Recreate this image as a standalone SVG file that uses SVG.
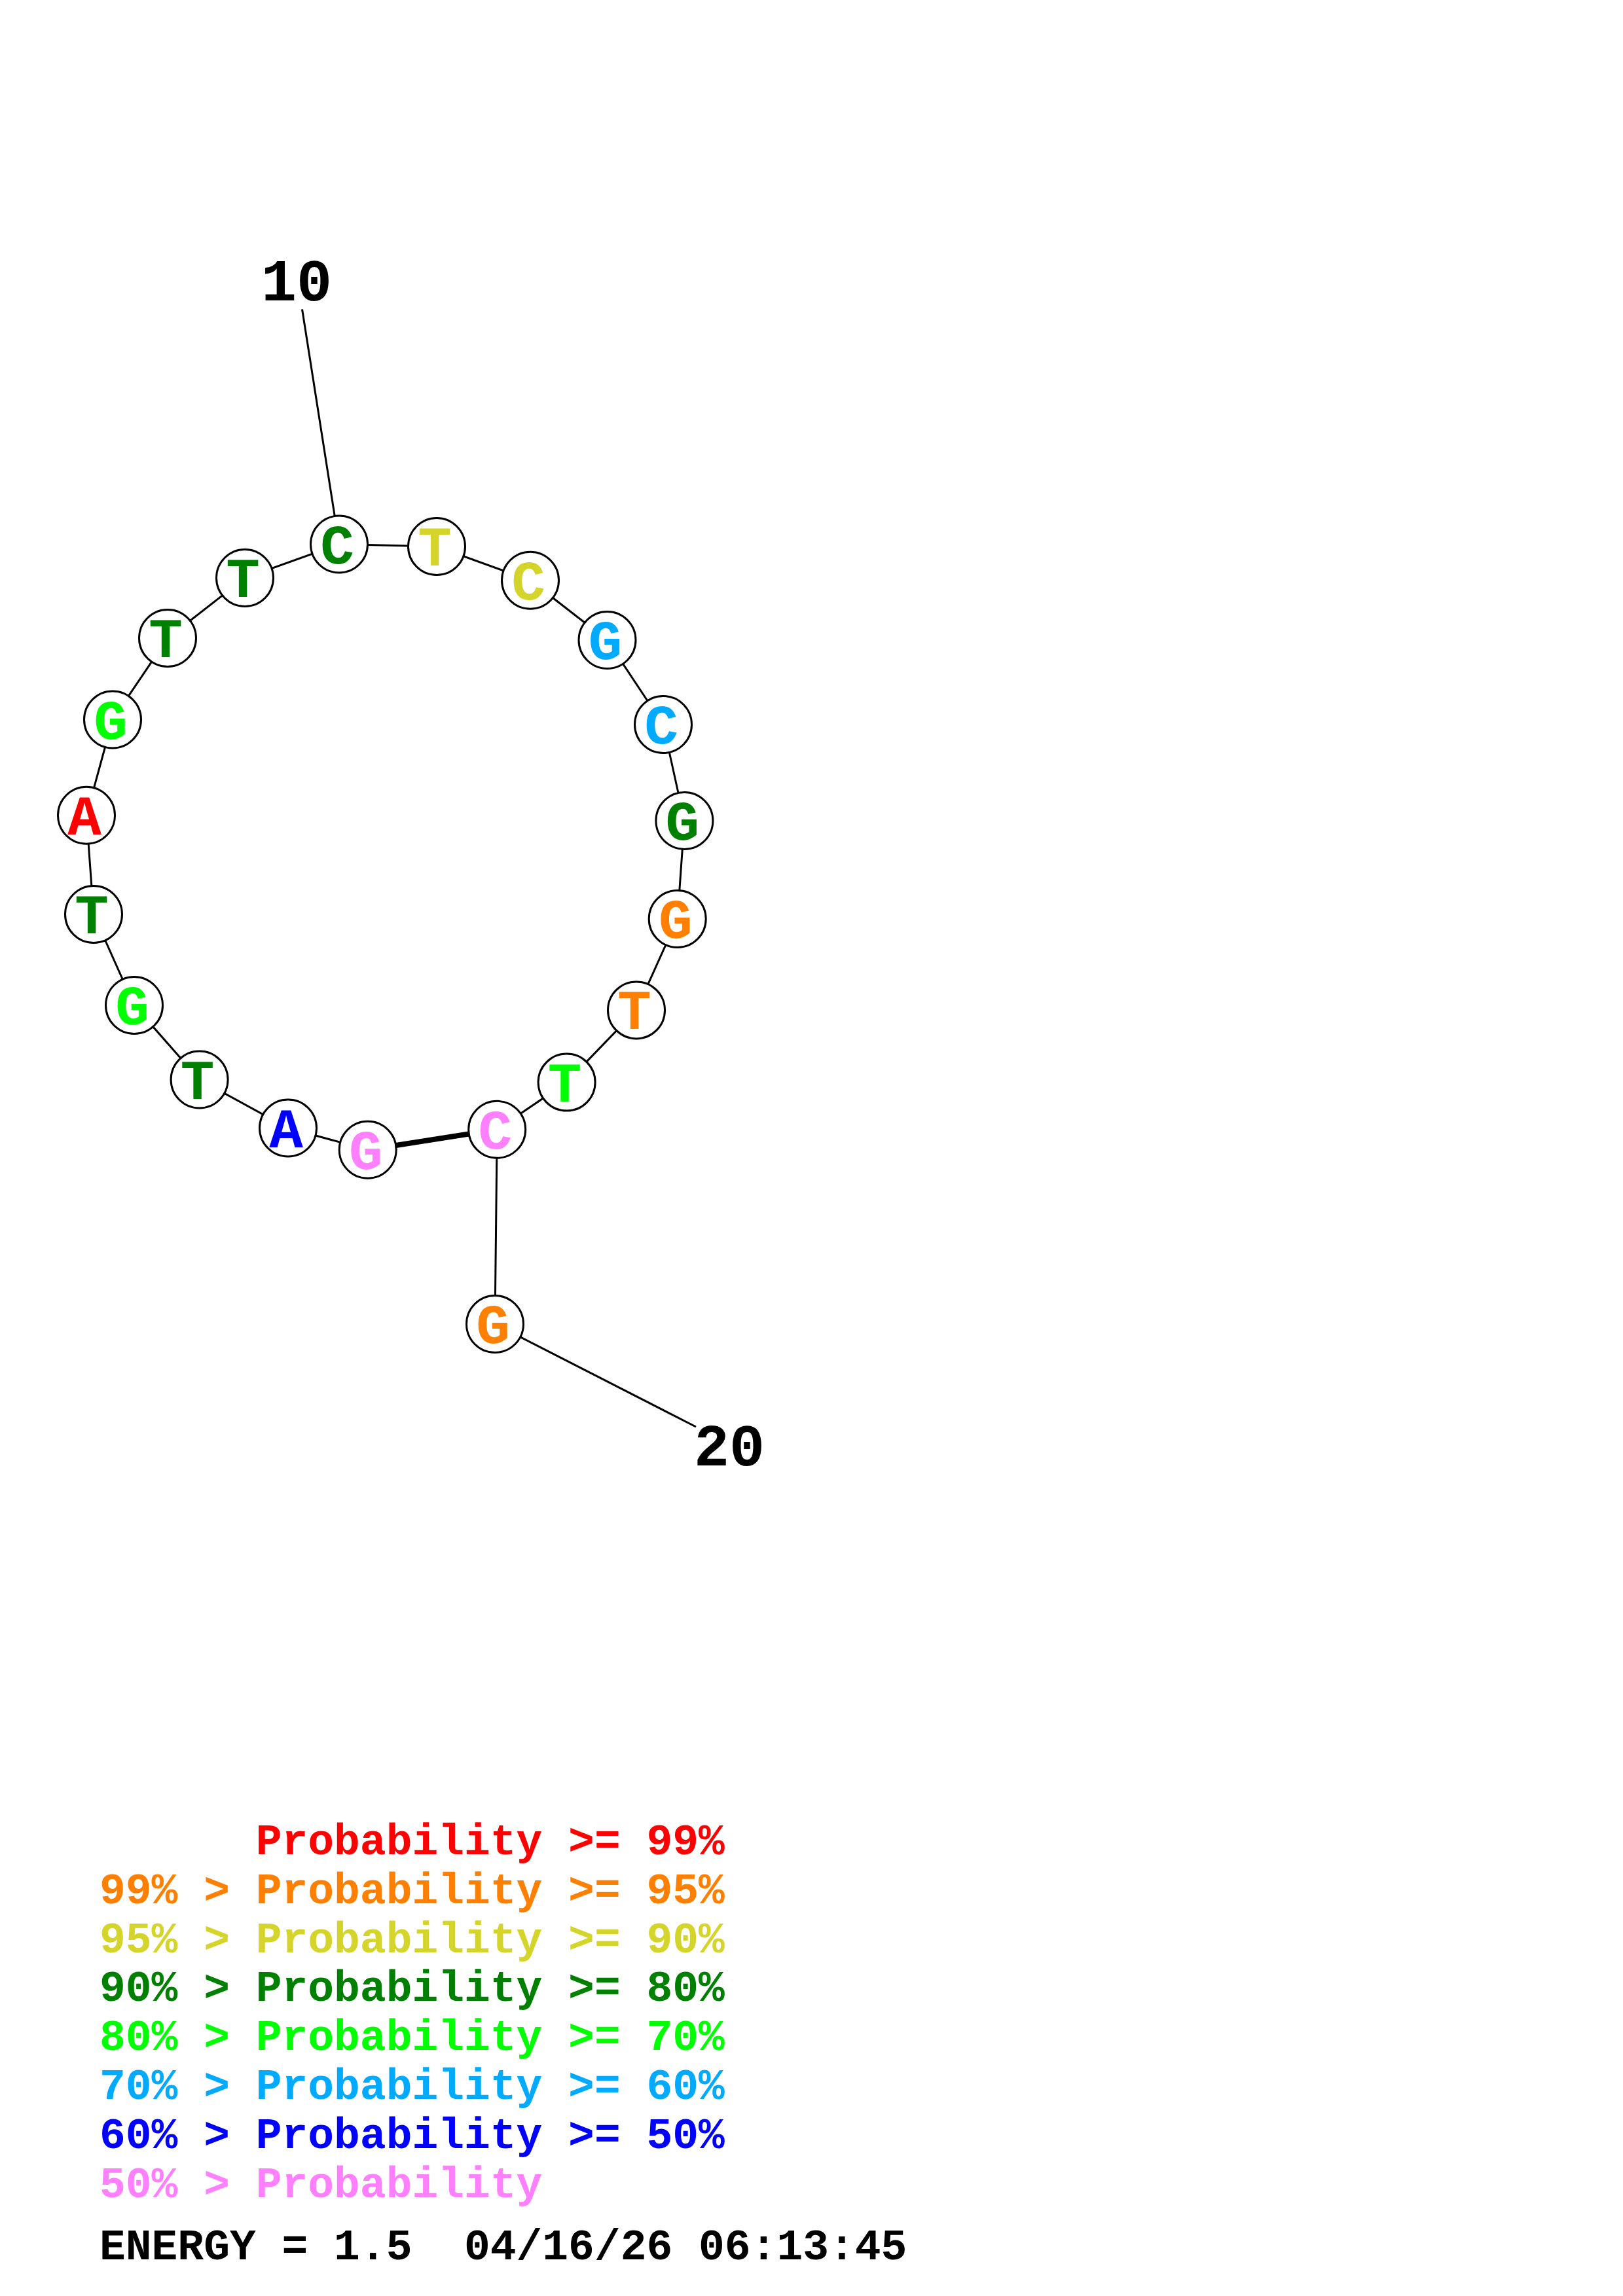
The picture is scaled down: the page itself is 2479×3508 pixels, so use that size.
<svg xmlns="http://www.w3.org/2000/svg" width="2479" height="3508" viewBox="0 0 2479 3508">
<style>
.bb{stroke:#000;stroke-width:3;fill:none}
.pair{stroke:#000;stroke-width:8;fill:none}
.nd circle{fill:#fff;stroke:#000;stroke-width:3}
.nd text{font-family:"Liberation Mono","Courier New",monospace;font-weight:bold;font-size:86px;text-anchor:middle}
.num{font-family:"Liberation Mono","Courier New",monospace;font-weight:bold;font-size:90px;fill:#000}
.lg{font-family:"Liberation Mono","Courier New",monospace;font-weight:bold;font-size:66.3px;white-space:pre}
.red{fill:#FF0000}.org{fill:#FF8000}.yel{fill:#D4D42A}.dg{fill:#008000}.lim{fill:#00FF00}.lb{fill:#00AAFF}.blu{fill:#0000FF}.pnk{fill:#FF80FF}.blk{fill:#000}
</style>
<rect width="2479" height="3508" fill="#fff"/>
<g id="connectors">
<line class="bb" x1="461.5" y1="472.4" x2="518" y2="831.5"/>
<line class="bb" x1="756" y1="2023" x2="1063" y2="2180"/>
<polyline class="bb" points="561.7,1756.7 440,1723.5 304.6,1649.5 205,1536 143,1397 132,1245.8 172,1099.5 256,975 374,883 518,831.5 667,835 810,886.7 927.5,978 1013,1107 1045.4,1254 1034.7,1404 972,1543.4 865.6,1653.6 759.2,1725.8 756,2023"/>
<line class="pair" x1="561.7" y1="1756.7" x2="759.2" y2="1725.8"/>
</g>
<g id="n1" class="nd"><circle cx="561.7" cy="1756.7" r="43.5"/><text class="pnk" x="558.7" y="1785.7">G</text></g>
<g id="n2" class="nd"><circle cx="440" cy="1723.5" r="43.5"/><text class="blu" x="437" y="1752.5">A</text></g>
<g id="n3" class="nd"><circle cx="304.6" cy="1649.5" r="43.5"/><text class="dg" x="301.6" y="1678.5">T</text></g>
<g id="n4" class="nd"><circle cx="205" cy="1536" r="43.5"/><text class="lim" x="202" y="1565">G</text></g>
<g id="n5" class="nd"><circle cx="143" cy="1397" r="43.5"/><text class="dg" x="140" y="1426">T</text></g>
<g id="n6" class="nd"><circle cx="132" cy="1245.8" r="43.5"/><text class="red" x="129" y="1274.8">A</text></g>
<g id="n7" class="nd"><circle cx="172" cy="1099.5" r="43.5"/><text class="lim" x="169" y="1128.5">G</text></g>
<g id="n8" class="nd"><circle cx="256" cy="975" r="43.5"/><text class="dg" x="253" y="1004">T</text></g>
<g id="n9" class="nd"><circle cx="374" cy="883" r="43.5"/><text class="dg" x="371" y="912">T</text></g>
<g id="n10" class="nd"><circle cx="518" cy="831.5" r="43.5"/><text class="dg" x="515" y="860.5">C</text></g>
<g id="n11" class="nd"><circle cx="667" cy="835" r="43.5"/><text class="yel" x="664" y="864">T</text></g>
<g id="n12" class="nd"><circle cx="810" cy="886.7" r="43.5"/><text class="yel" x="807" y="915.7">C</text></g>
<g id="n13" class="nd"><circle cx="927.5" cy="978" r="43.5"/><text class="lb" x="924.5" y="1007">G</text></g>
<g id="n14" class="nd"><circle cx="1013" cy="1107" r="43.5"/><text class="lb" x="1010" y="1136">C</text></g>
<g id="n15" class="nd"><circle cx="1045.4" cy="1254" r="43.5"/><text class="dg" x="1042.4" y="1283">G</text></g>
<g id="n16" class="nd"><circle cx="1034.7" cy="1404" r="43.5"/><text class="org" x="1031.7" y="1433">G</text></g>
<g id="n17" class="nd"><circle cx="972" cy="1543.4" r="43.5"/><text class="org" x="969" y="1572.4">T</text></g>
<g id="n18" class="nd"><circle cx="865.6" cy="1653.6" r="43.5"/><text class="lim" x="862.6" y="1682.6">T</text></g>
<g id="n19" class="nd"><circle cx="759.2" cy="1725.8" r="43.5"/><text class="pnk" x="756.2" y="1754.8">C</text></g>
<g id="n20" class="nd"><circle cx="756" cy="2023" r="43.5"/><text class="org" x="753" y="2052">G</text></g>
<g id="labels">
<text class="num" x="399" y="459">10</text>
<text class="num" x="1060" y="2239">20</text>
</g>
<g id="legend">
<text class="lg red" x="152" y="2833" xml:space="preserve">      Probability &gt;= 99%</text>
<text class="lg org" x="152" y="2908" xml:space="preserve">99% &gt; Probability &gt;= 95%</text>
<text class="lg yel" x="152" y="2983" xml:space="preserve">95% &gt; Probability &gt;= 90%</text>
<text class="lg dg" x="152" y="3057" xml:space="preserve">90% &gt; Probability &gt;= 80%</text>
<text class="lg lim" x="152" y="3132" xml:space="preserve">80% &gt; Probability &gt;= 70%</text>
<text class="lg lb" x="152" y="3207" xml:space="preserve">70% &gt; Probability &gt;= 60%</text>
<text class="lg blu" x="152" y="3282" xml:space="preserve">60% &gt; Probability &gt;= 50%</text>
<text class="lg pnk" x="152" y="3357" xml:space="preserve">50% &gt; Probability</text>
<text class="lg blk" x="152" y="3452" xml:space="preserve">ENERGY = 1.5  04/16/26 06:13:45</text>
</g>
</svg>
